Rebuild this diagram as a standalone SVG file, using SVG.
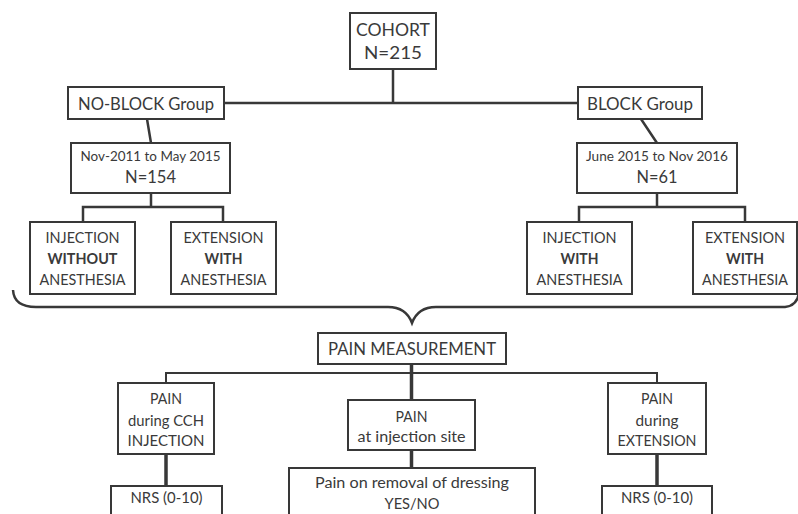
<svg xmlns="http://www.w3.org/2000/svg" width="798" height="514" viewBox="0 0 798 514">
<style>
.box{fill:#fff;stroke:#383838;stroke-width:2}
.t{font-family:Lato,"Open Sans","Liberation Sans",sans-serif;font-size:17px;fill:#3a3a3a;text-anchor:middle}
.m{font-size:15.5px}
.s{font-size:13px}
.b{font-weight:bold}
.c{fill:none;stroke:#383838;stroke-width:2.5}
.thin{fill:none;stroke:#383838;stroke-width:2}
.thick{fill:none;stroke:#383838;stroke-width:3.5}
</style>
<rect width="798" height="514" fill="#fff"/>
<g id="connectors">
<path class="c" d="M393,69V103M224,103H578"/>
<path class="c" d="M147,119L151,143M641,119L657,143"/>
<path class="c" d="M151,193V207M83,222V207H223V222"/>
<path class="c" d="M657,193V207M579,222V207H745V222"/>
<path class="c" d="M13,290Q14,307 36,307H388Q406,307 412,323Q418,307 436,307H785Q797,306 799,293"/>
<path class="thin" d="M166,383V373H657V383"/>
<path class="thick" d="M411.5,364V400M411.5,450V468M166,454V486M657,454V486"/>
</g>
<g id="cohort"><rect class="box" x="350" y="13" width="86" height="56"/><text class="t" x="393" y="36" textLength="74" lengthAdjust="spacingAndGlyphs">COHORT</text><text class="t" x="393" y="59" textLength="58" lengthAdjust="spacingAndGlyphs">N=215</text></g>
<g id="noblock"><rect class="box" x="68" y="87" width="156" height="32"/><text class="t" x="146" y="110" textLength="136" lengthAdjust="spacingAndGlyphs">NO-BLOCK Group</text></g>
<g id="block"><rect class="box" x="578" y="87" width="124" height="32"/><text class="t" x="640" y="110" textLength="106" lengthAdjust="spacingAndGlyphs">BLOCK Group</text></g>
<g id="period-noblock"><rect class="box" x="71" y="143" width="159" height="50"/><text class="t s" x="150.5" y="161" textLength="140" lengthAdjust="spacingAndGlyphs">Nov-2011 to May 2015</text><text class="t" x="150.5" y="183" textLength="51" lengthAdjust="spacingAndGlyphs">N=154</text></g>
<g id="period-block"><rect class="box" x="577" y="143" width="160" height="50"/><text class="t s" x="657" y="161" textLength="142" lengthAdjust="spacingAndGlyphs">June 2015 to Nov 2016</text><text class="t" x="657" y="183" textLength="41" lengthAdjust="spacingAndGlyphs">N=61</text></g>
<g id="nb-injection"><rect class="box" x="30" y="222" width="105" height="72"/><text class="t m" x="82.5" y="243" textLength="74" lengthAdjust="spacingAndGlyphs">INJECTION</text><text class="t m b" x="82.5" y="264" textLength="70" lengthAdjust="spacingAndGlyphs">WITHOUT</text><text class="t m" x="82.5" y="285" textLength="86" lengthAdjust="spacingAndGlyphs">ANESTHESIA</text></g>
<g id="nb-extension"><rect class="box" x="171" y="222" width="105" height="72"/><text class="t m" x="223.5" y="243" textLength="80" lengthAdjust="spacingAndGlyphs">EXTENSION</text><text class="t m b" x="223.5" y="264" textLength="38" lengthAdjust="spacingAndGlyphs">WITH</text><text class="t m" x="223.5" y="285" textLength="86" lengthAdjust="spacingAndGlyphs">ANESTHESIA</text></g>
<g id="b-injection"><rect class="box" x="527" y="222" width="105" height="72"/><text class="t m" x="579.5" y="243" textLength="74" lengthAdjust="spacingAndGlyphs">INJECTION</text><text class="t m b" x="579.5" y="264" textLength="38" lengthAdjust="spacingAndGlyphs">WITH</text><text class="t m" x="579.5" y="285" textLength="86" lengthAdjust="spacingAndGlyphs">ANESTHESIA</text></g>
<g id="b-extension"><rect class="box" x="693" y="222" width="104" height="72"/><text class="t m" x="745" y="243" textLength="80" lengthAdjust="spacingAndGlyphs">EXTENSION</text><text class="t m b" x="745" y="264" textLength="38" lengthAdjust="spacingAndGlyphs">WITH</text><text class="t m" x="745" y="285" textLength="86" lengthAdjust="spacingAndGlyphs">ANESTHESIA</text></g>
<g id="pain-measurement"><rect class="box" x="318" y="333" width="188" height="31"/><text class="t" x="412" y="355" textLength="168" lengthAdjust="spacingAndGlyphs">PAIN MEASUREMENT</text></g>
<g id="pain-injection"><rect class="box" x="118" y="383" width="96" height="71"/><text class="t m" x="166" y="404" textLength="32" lengthAdjust="spacingAndGlyphs">PAIN</text><text class="t m" x="166" y="426" textLength="76" lengthAdjust="spacingAndGlyphs">during CCH</text><text class="t m" x="166" y="446" textLength="77" lengthAdjust="spacingAndGlyphs">INJECTION</text></g>
<g id="pain-site"><rect class="box" x="348" y="400" width="127" height="50"/><text class="t m" x="411.5" y="422" textLength="32" lengthAdjust="spacingAndGlyphs">PAIN</text><text class="t m" x="411.5" y="442" textLength="108" lengthAdjust="spacingAndGlyphs">at injection site</text></g>
<g id="pain-extension"><rect class="box" x="608" y="383" width="98" height="71"/><text class="t m" x="657" y="404" textLength="32" lengthAdjust="spacingAndGlyphs">PAIN</text><text class="t m" x="657" y="426" textLength="43" lengthAdjust="spacingAndGlyphs">during</text><text class="t m" x="657" y="446" textLength="79" lengthAdjust="spacingAndGlyphs">EXTENSION</text></g>
<g id="nrs-injection"><rect class="box" x="111" y="486" width="111" height="40"/><text class="t m" x="166.5" y="503" textLength="72" lengthAdjust="spacingAndGlyphs">NRS (0-10)</text></g>
<g id="dressing"><rect class="box" x="289" y="468" width="246" height="60"/><text class="t m" x="412" y="488" textLength="194" lengthAdjust="spacingAndGlyphs">Pain on removal of dressing</text><text class="t m" x="412" y="509" textLength="55" lengthAdjust="spacingAndGlyphs">YES/NO</text></g>
<g id="nrs-extension"><rect class="box" x="602" y="486" width="110" height="40"/><text class="t m" x="657" y="503" textLength="72" lengthAdjust="spacingAndGlyphs">NRS (0-10)</text></g>
</svg>
